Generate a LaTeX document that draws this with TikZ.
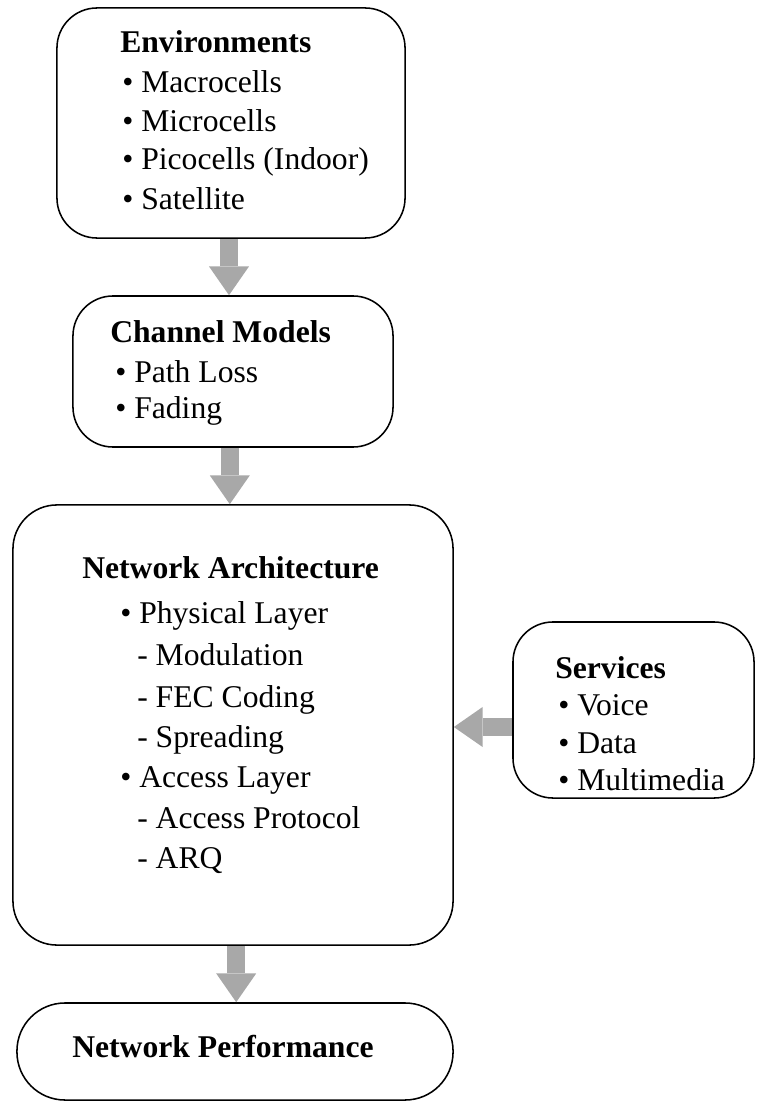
\documentclass[tikz,border=0pt]{standalone}
\usepackage{fontspec}
\setmainfont{Liberation Serif}
\usetikzlibrary{arrows.meta}
\tikzstyle{block} = [rectangle, rounded corners=1cm, draw=black, line width=1.1pt, inner sep=0pt]
\tikzstyle{textline} = [anchor=base west, inner sep=0pt, font=\fontsize{22.5}{27}\selectfont]
\tikzstyle{heading} = [textline, font=\fontsize{22.5}{27}\selectfont\bfseries]
\tikzstyle{bigarrow} = [line width=12.4pt, draw=gray!68, -{Triangle[length=20.5pt, width=28.5pt, line width=0pt]}]

\begin{document}
\begin{tikzpicture}[x=0.025cm, y=-0.025cm]
    \useasboundingbox (0,0) rectangle (756,1102);

    % Boxes
    \node (env) [block, minimum width=8.7cm, minimum height=5.75cm] at (231,123) {};
    \node (chan) [block, minimum width=8cm, minimum height=3.775cm] at (233,371.5) {};
    \node (arch) [block, rounded corners=1.1cm, minimum width=11cm, minimum height=11cm] at (233,725) {};
    \node (serv) [block, minimum width=6.025cm, minimum height=4.4cm] at (633.5,710) {};
    \node (perf) [block, rounded corners=1.2cm, minimum width=10.9cm, minimum height=2.425cm] at (235,1051.5) {};

    % Texts
    \node (env-title) [heading] at (120,53) {Environments};
    \foreach \txt/\y [count=\i] in {Macrocells/93, Microcells/132, Picocells (Indoor)/170, Satellite/210}
        \node (env-\i) [textline] at (122,\y) {• \txt};

    \node (chan-title) [heading] at (110,343) {Channel Models};
    \foreach \txt/\y [count=\i] in {Path Loss/382, Fading/418}
        \node (chan-\i) [textline] at (115,\y) {• \txt};

    \node (arch-title) [heading] at (82,578) {Network Architecture};
    \node (arch-phy) [textline] at (120,623) {• Physical Layer};
    \node (arch-acc) [textline] at (120,787) {• Access Layer};
    \foreach \txt/\y [count=\i] in {Modulation/665, FEC Coding/707, Spreading/747, Access Protocol/828, ARQ/868}
        \node (arch-\i) [textline] at (137,\y) {- \txt};

    \node (serv-title) [heading] at (555,678) {Services};
    \foreach \txt/\y [count=\i] in {Voice/715, Data/753, Multimedia/790}
        \node (serv-\i) [textline] at (558,\y) {• \txt};

    \node (perf-title) [heading] at (72,1057) {Network Performance};

    % Arrows
    \draw [bigarrow] ([xshift=-0.05cm]env.south) -- ([xshift=-0.05cm]env.south |- chan.north);
    \draw [bigarrow] ([xshift=-0.08cm]chan.south) -- ([xshift=-0.08cm]chan.south |- arch.north);
    \draw [bigarrow] ([yshift=-0.425cm]serv.west) -- ([yshift=-0.425cm]serv.west -| arch.east);
    \draw [bigarrow] ([xshift=0.08cm]arch.south) -- ([xshift=0.08cm]arch.south |- perf.north);

\end{tikzpicture}
\end{document}
